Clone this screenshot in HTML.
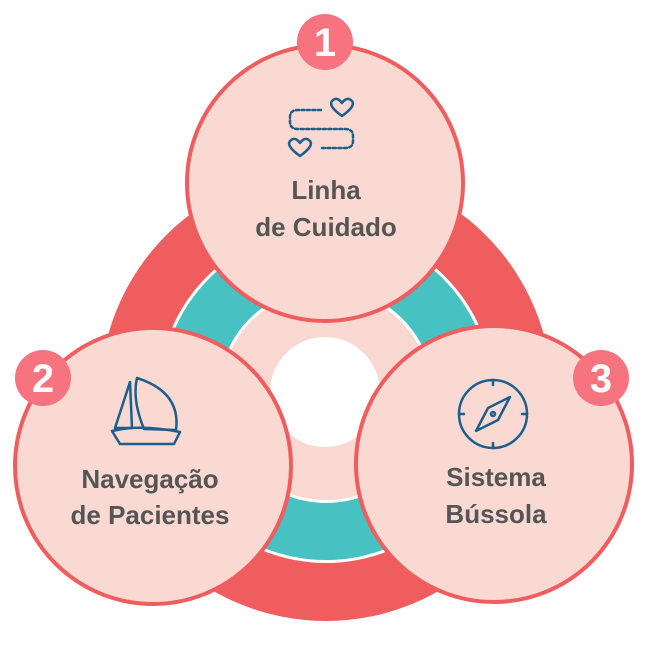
<!DOCTYPE html>
<html><head><meta charset="utf-8"><style>
body{margin:0;background:#fff;width:645px;height:642px;overflow:hidden}
text{font-family:"Liberation Sans",sans-serif;font-weight:bold}
</style></head><body>
<svg width="645" height="642" viewBox="0 0 645 642" xmlns="http://www.w3.org/2000/svg">
<circle cx="326" cy="395" r="226" fill="#ef5d5e"/>
<circle cx="326" cy="395" r="168" fill="#fff"/>
<circle cx="326" cy="395" r="165" fill="#47c1c1"/>
<circle cx="326" cy="395" r="108" fill="#fff"/>
<circle cx="326" cy="395" r="105" fill="#f9d8d1"/>
<circle cx="325" cy="392" r="55" fill="#fff"/>
<g fill="#f9d9d2" stroke="#ef5d5e" stroke-width="4">
<circle cx="325" cy="183" r="138"/>
<circle cx="153" cy="466" r="138"/>
<circle cx="494" cy="464" r="138"/>
</g>
<g fill="#f7737f">
<circle cx="325" cy="42" r="28"/>
<circle cx="43" cy="378" r="28"/>
<circle cx="601" cy="378" r="28"/>
</g>
<g fill="#fff" font-size="40" text-anchor="middle">
<text x="325" y="56">1</text>
<text x="43" y="392">2</text>
<text x="601" y="392">3</text>
</g>
<g fill="#555" font-size="26" text-anchor="middle">
<text x="326" y="199">Linha</text>
<text x="326" y="236">de Cuidado</text>
<text x="150" y="488">Navegação</text>
<text x="150" y="524">de Pacientes</text>
<text x="496" y="486">Sistema</text>
<text x="496" y="523">Bússola</text>
</g>
<g fill="none" stroke="#1d5f8c" stroke-width="2.5" stroke-linecap="round" stroke-linejoin="round">
<path d="M321 110 H298 Q290 110 290 117 V122 Q290 129 298 129 H345 Q353 129 353 136 V141 Q353 148 345 148 H322" stroke-dasharray="3 2.5"/>
<path d="M342 103 q5-7 10-2 q4 5-10 15 q-14-10-10-15 q5-5 10 2z"/>
<path d="M300 143 q5-7 10-2 q4 5-10 15 q-14-10-10-15 q5-5 10 2z"/>
<path d="M130 382 L115 428 L132 428 Z"/>
<path d="M137 378 Q181 392 176 430 L144 429 Q132 400 137 378Z"/>
<path d="M112 431 Q140 424 180 432 L174 444 H120 Z"/>
<circle cx="493" cy="414" r="34"/>
<path d="M493 380v5M493 443v5M459 414h5M522 414h5"/>
<path d="M510 397 L498 420 L476 431 L488 408 Z"/>
<circle cx="493" cy="414" r="2"/>
</g>
</svg>
</body></html>
